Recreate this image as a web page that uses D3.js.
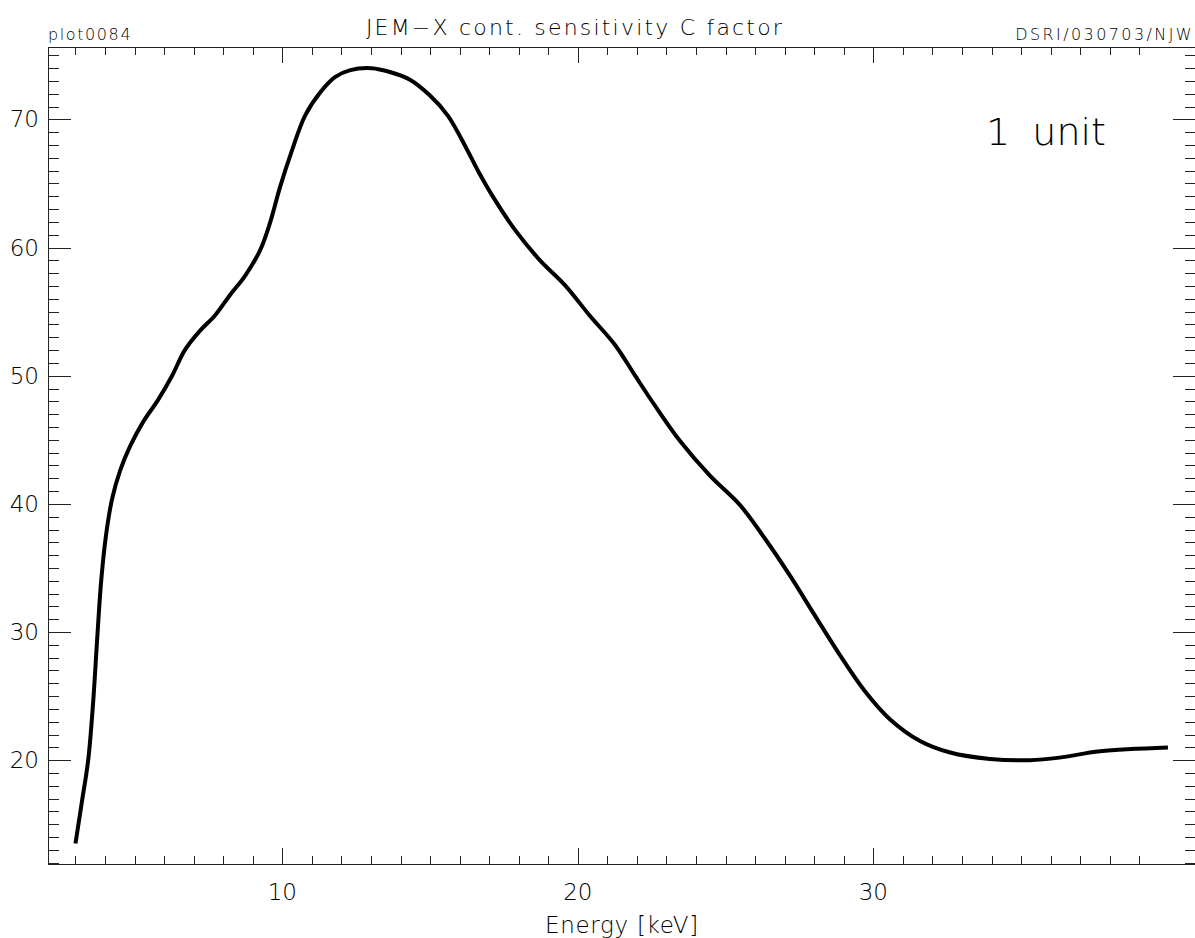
<!DOCTYPE html>
<html>
<head>
<meta charset="utf-8">
<script src="https://cdn.jsdelivr.net/npm/d3@7"></script>
<style>
body{margin:0;background:#fff;}
text{font-family:"DejaVu Sans",sans-serif;font-weight:200;fill:#000;}
</style>
</head>
<body>
<script>
/* JEM-X continuum sensitivity */
var energy = [3.0,3.22,3.43,3.6,3.73,3.87,4.03,4.24,4.51,4.85,5.29,5.79,6.27,6.7,7.21,7.72,8.23,8.74,9.25,9.58,9.92,10.33,10.77,11.28,11.78,12.3,13.03,13.64,14.32,14.98,15.6,16.08,16.62,17.2,17.9,18.72,19.57,20.4,21.26,21.94,22.6,23.46,24.47,25.49,26.33,27.18,28.02,28.87,29.71,30.56,31.58,32.6,33.95,35.3,36.3,37.67,39.97];
var cfactor = [13.5,16.8,20.0,24.6,29.3,34.0,37.5,40.4,42.6,44.5,46.4,48.1,50.0,52.0,53.5,54.7,56.3,57.8,59.8,61.9,64.7,67.6,70.3,72.1,73.3,73.85,74.0,73.7,73.1,71.9,70.3,68.4,66.0,63.7,61.3,59.0,57.05,54.7,52.4,50.0,47.7,44.9,42.2,39.9,37.3,34.4,31.3,28.2,25.4,23.2,21.5,20.6,20.1,20.0,20.2,20.7,21.0];
var xMajor = [10,20,30];
var yMajor = [20,30,40,50,60,70];
var xMinor = d3.range(3,40);
var yMinor = d3.range(12,76);

var width = 1195, height = 938;
var padL = 48, padR = 1196, padT = 47, padB = 864;

var x = d3.scaleLinear().domain([2.07,40.92]).range([padL,padR]);
var y = d3.scaleLinear().domain([11.9,75.65]).range([padB,padT]);

var svg = d3.select("body").append("svg").attr("width",width).attr("height",height);

// frame
var frame = svg.append("g").attr("stroke","#222").attr("stroke-width",1).attr("shape-rendering","crispEdges");
frame.append("rect").attr("x",padL+0.5).attr("y",padT+0.5).attr("width",padR-padL).attr("height",padB-padT).attr("fill","none");

// x ticks, bottom and top
frame.selectAll(".xb").data(xMinor).enter().append("line")
  .attr("x1",function(d){return Math.round(x(d))+0.5;}).attr("x2",function(d){return Math.round(x(d))+0.5;})
  .attr("y1",padB).attr("y2",function(d){return xMajor.indexOf(d)>=0 ? padB-16 : padB-8;});
frame.selectAll(".xt").data(xMinor).enter().append("line")
  .attr("x1",function(d){return Math.round(x(d))+0.5;}).attr("x2",function(d){return Math.round(x(d))+0.5;})
  .attr("y1",padT).attr("y2",function(d){return xMajor.indexOf(d)>=0 ? padT+16 : padT+8;});

// y ticks, left and right
frame.selectAll(".yl").data(yMinor).enter().append("line")
  .attr("y1",function(d){return Math.round(y(d))+0.5;}).attr("y2",function(d){return Math.round(y(d))+0.5;})
  .attr("x1",padL).attr("x2",function(d){return yMajor.indexOf(d)>=0 ? padL+23 : padL+11;});
frame.selectAll(".yr").data(yMinor).enter().append("line")
  .attr("y1",function(d){return Math.round(y(d))+0.5;}).attr("y2",function(d){return Math.round(y(d))+0.5;})
  .attr("x1",padR).attr("x2",function(d){return yMajor.indexOf(d)>=0 ? padR-23 : padR-11;});

// tick labels
svg.selectAll(".xlab").data(xMajor).enter().append("text")
  .attr("x",function(d){return x(d);}).attr("y",padB+36)
  .attr("text-anchor","middle").attr("font-size",23).text(function(d){return d;});
svg.selectAll(".ylab").data(yMajor).enter().append("text")
  .attr("x",padL-9).attr("y",function(d){return y(d)+8;})
  .attr("text-anchor","end").attr("font-size",23).text(function(d){return d;});

// curve
var line = d3.line().x(function(d,i){return x(energy[i]);}).y(function(d){return y(d);}).curve(d3.curveCatmullRom);
svg.append("path").datum(cfactor).attr("d",line)
  .attr("fill","none").attr("stroke","#000").attr("stroke-width",4).attr("stroke-linejoin","round");

// texts
svg.append("text").attr("x",padL).attr("y",40).attr("font-size",16).attr("letter-spacing",1.6).text("plot0084");
svg.append("text").attr("x",1194).attr("y",40).attr("text-anchor","end").attr("font-size",16).attr("letter-spacing",2.4).text("DSRI/030703/NJW");
svg.append("text").attr("x",575).attr("y",35).attr("text-anchor","middle").attr("font-size",22).attr("letter-spacing",2.2).text("JEM\u2212X cont. sensitivity C factor");
svg.append("text").attr("x",(padL+padR)/2).attr("y",933).attr("text-anchor","middle").attr("font-size",23).attr("letter-spacing",0.7).text("Energy [keV]");
svg.append("text").attr("x",1046).attr("y",145).attr("text-anchor","middle").attr("font-size",38).attr("word-spacing",10).text("1 unit");
</script>
</body>
</html>
